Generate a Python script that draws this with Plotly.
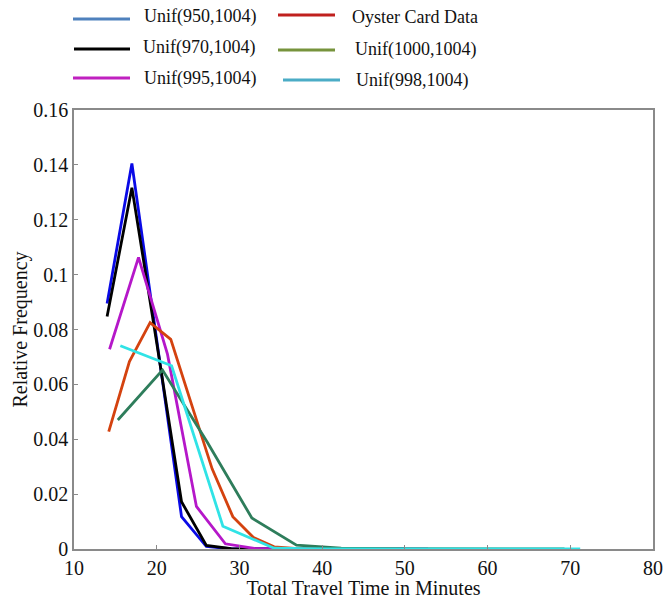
import plotly.graph_objects as go

# ---- data ----
x_950 = [14.0, 17.0, 20.0, 23.0, 26.0, 29.0, 32.0, 35.0, 38.0, 41.0, 44.0, 47.0, 50.0]
y_950 = [0.0895, 0.1405, 0.0762, 0.0118, 0.0009, 0.0001, 0.0, 0.0, 0.0, 0.0, 0.0, 0.0, 0.0]

x_970 = [14.0, 17.0, 20.0, 23.0, 26.0, 29.0, 32.0, 35.0, 38.0, 41.0, 44.0, 47.0, 50.0]
y_970 = [0.0847, 0.1317, 0.0752, 0.0172, 0.0013, 0.0001, 0.0, 0.0, 0.0, 0.0, 0.0, 0.0, 0.0]

x_995 = [14.3, 17.8, 21.3, 24.8, 28.3, 31.8, 35.3, 38.8, 42.3, 45.8, 49.3, 52.8]
y_995 = [0.0728, 0.1063, 0.0710, 0.0155, 0.0019, 0.0002, 0.0, 0.0, 0.0, 0.0, 0.0, 0.0]

x_oyster = [14.2, 16.7, 19.2, 21.7, 24.2, 26.7, 29.2, 31.7, 34.2, 36.7, 39.2, 41.7, 44.2, 46.7, 49.2]
y_oyster = [0.0428, 0.0683, 0.0825, 0.0764, 0.0528, 0.0292, 0.0118, 0.0042, 0.0008, 0.0002, 0.0001, 0.0, 0.0, 0.0, 0.0]

x_1000 = [15.3, 20.7, 26.1, 31.5, 36.9, 42.3, 47.7, 53.1, 58.5, 63.9, 69.3]
y_1000 = [0.0470, 0.0652, 0.0390, 0.0113, 0.0014, 0.0003, 0.0001, 0.0, 0.0, 0.0, 0.0]

x_998 = [15.6, 21.8, 28.0, 34.2, 40.4, 46.6, 52.8, 59.0, 65.2, 71.2]
y_998 = [0.0741, 0.0668, 0.0083, 0.0003, 0.0, 0.0, 0.0, 0.0, 0.0, 0.0]

y_tick_vals = [0, 0.02, 0.04, 0.06, 0.08, 0.1, 0.12, 0.14, 0.16]
y_tick_labels = ["0", "0.02", "0.04", "0.06", "0.08", "0.1", "0.12", "0.14", "0.16"]
x_tick_vals = [10, 20, 30, 40, 50, 60, 70, 80]

legend_labels = ["Unif(950,1004)", "Oyster Card Data", "Unif(970,1004)",
                 "Unif(1000,1004)", "Unif(995,1004)", "Unif(998,1004)"]

# ---- styling ----
FONT = "Liberation Serif"
W, H = 665, 599
ML, MT = 74, 110
MR = W - 653
MB = H - 549
PW, PH = W - ML - MR, H - MT - MB

series = [
    (x_950, y_950, "#0a0ae6"),
    (x_970, y_970, "#000000"),
    (x_995, y_995, "#b517c9"),
    (x_oyster, y_oyster, "#d4420f"),
    (x_1000, y_1000, "#2e7d5b"),
    (x_998, y_998, "#30e3e6"),
]

fig = go.Figure()
for xs, ys, col in series:
    fig.add_trace(go.Scatter(x=xs, y=ys, mode="lines",
                             line=dict(color=col, width=2.8),
                             showlegend=False, hoverinfo="skip"))

# ---- manual legend (above plot), positions in page pixels ----
legend_colors = ["#4f81bd", "#c0201e", "#000000", "#77933c", "#c020c0", "#4bacc6"]
legend_line_px = [(73, 130, 19), (278, 335, 15), (74, 130, 49),
                  (278, 335, 50), (73, 130, 78), (283, 340, 80)]
legend_text_px = [(142, 16), (350, 17), (141, 48), (353, 49), (142, 78), (354, 81)]

def px_x(p):
    return (p - ML) / PW

def px_y(p):
    return (H - MB - p) / PH

shapes = []
annotations = []
for lab, col, (x0, x1, yl), (tx, ty) in zip(legend_labels, legend_colors,
                                            legend_line_px, legend_text_px):
    shapes.append(dict(type="line", xref="paper", yref="paper",
                       x0=px_x(x0), x1=px_x(x1), y0=px_y(yl), y1=px_y(yl),
                       line=dict(color=col, width=3)))
    annotations.append(dict(text=lab, xref="paper", yref="paper",
                            x=px_x(tx), y=px_y(ty), xanchor="left", yanchor="middle",
                            showarrow=False, font=dict(family=FONT, size=18, color="#111")))

axis_common = dict(showline=True, linecolor="#8a8a8a", linewidth=1.5, mirror=True,
                   ticks="inside", ticklen=4, tickcolor="#8a8a8a", tickwidth=1.2,
                   showgrid=False, zeroline=False,
                   tickfont=dict(family=FONT, size=20, color="#111"))

fig.update_layout(
    width=W, height=H,
    margin=dict(l=ML, r=MR, t=MT, b=MB, autoexpand=False),
    paper_bgcolor="white", plot_bgcolor="white",
    xaxis=dict(range=[10, 80], tickvals=x_tick_vals, automargin=False,
               title=dict(text="Total Travel Time in Minutes", standoff=2,
                          font=dict(family=FONT, size=20, color="#111")),
               **axis_common),
    yaxis=dict(range=[0, 0.16], tickvals=y_tick_vals, ticktext=y_tick_labels,
               automargin=False,
               title=dict(text="Relative Frequency", standoff=0,
                          font=dict(family=FONT, size=20, color="#111")),
               **axis_common),
    shapes=shapes, annotations=annotations,
    showlegend=False,
)

fig.write_html(
    "out.html",
    config={"displayModeBar": False},
    post_script="document.body.style.margin='0';document.body.style.overflow='hidden';",
)
